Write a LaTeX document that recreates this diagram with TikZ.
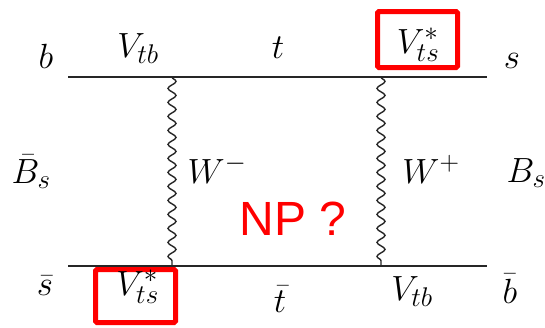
\RequirePackage{fix-cm}
\documentclass[tikz,border=0pt]{standalone}
\usepackage{fontspec}
\newfontfamily\npfont{Liberation Sans}
\DeclareMathSizes{35}{35}{27}{20}
\usetikzlibrary{decorations.pathmorphing}
\tikzset{
  lbl/.style={anchor=base, inner sep=0pt, font=\fontsize{35}{40}\selectfont},
  fermion/.style={line width=1.8pt, draw=black!85},
  boson/.style={line width=1.4pt, draw=black!85, decorate,
    decoration={snake, segment length=14pt, amplitude=4pt}},
  redbox/.style={draw=red, line width=5pt, rounded corners=1.5pt, inner sep=0pt},
}
\begin{document}
\begin{tikzpicture}[x=1pt, y=-1pt]
\useasboundingbox (0,0) rectangle (545,327);
% line ends and vertices
\coordinate (tl) at (68,77);
\coordinate (tr) at (487,77);
\coordinate (bl) at (68,266);
\coordinate (br) at (487,266);
\coordinate (v1) at (172,77);
\coordinate (v2) at (381,77);
\coordinate (v3) at (172,266);
\coordinate (v4) at (381,266);
% red boxes
\node[redbox, minimum width=80pt, minimum height=56pt] (box1) at (417.5,39.5) {};
\node[redbox, minimum width=80pt, minimum height=53pt] (box2) at (135.5,296) {};
% lines
\draw[fermion] (tl) -- (tr);
\draw[fermion] (bl) -- (br);
\draw[boson] (v1) -- (v3);
\draw[boson] (v2) -- (v4);
% labels top
\node[lbl] (b) at (46,68) {$b$};
\node[lbl] (vtb1) at (138,57) {$V_{tb}$};
\node[lbl] (t) at (278,58) {$t$};
\node[lbl] (vts1) at (418,53) {$V_{ts}^{*}$};
\node[lbl] (s) at (512,68) {$s$};
% middle
\node[lbl] (Bsbar) at (31,183) {$\bar{B}_s$};
\node[lbl] (Wm) at (217,183) {$W^{-}$};
\node[lbl] (Wp) at (431,183) {$W^{+}$};
\node[lbl] (Bs) at (526,182) {$B_s$};
\node[anchor=base, inner sep=0pt, text=red, font=\npfont\fontsize{48}{52}\selectfont] (np) at (293,235) {NP ?};
% bottom
\node[lbl] (sbar) at (45,295) {$\bar{s}$};
\node[lbl] (vts2) at (137.5,295) {$V_{ts}^{*}$};
\node[lbl] (tbar) at (280,312) {$\bar{t}$};
\node[lbl] (vtb2) at (412,300) {$V_{tb}$};
\node[lbl] (bbar) at (510,303) {$\bar{b}$};
\end{tikzpicture}
\end{document}
